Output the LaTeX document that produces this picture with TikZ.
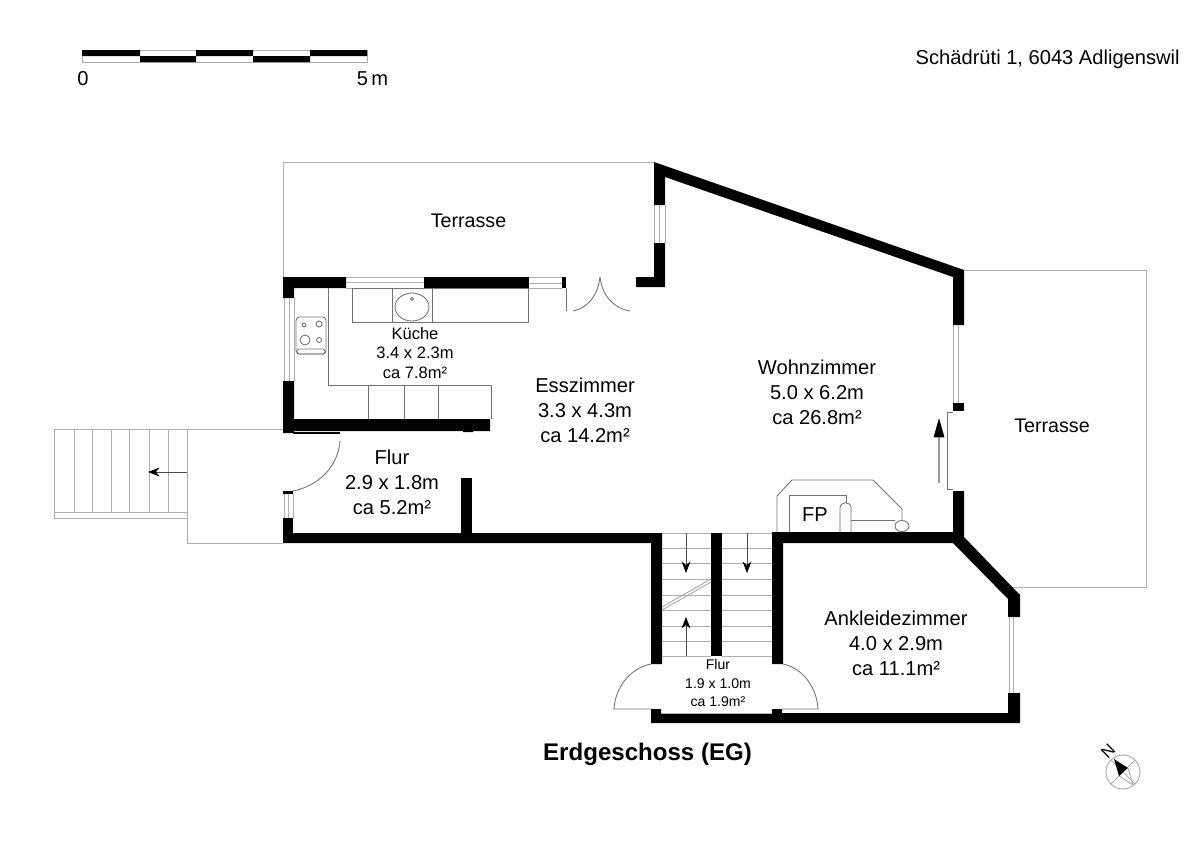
\documentclass[tikz,border=0pt]{standalone}
\usepackage{fontspec}
\setmainfont{Liberation Sans}
\usetikzlibrary{arrows.meta}
\tikzset{
  wall/.style={fill=black, draw=none},
  thin line/.style={draw=black!32, line width=0.55pt},
  fitting/.style={draw=black!55, line width=0.5pt},
  room/.style={align=center, font=\fontsize{11.45}{14.2}\selectfont, inner sep=0pt},
  small room/.style={align=center, font=\fontsize{8}{10.6}\selectfont, inner sep=0pt},
  walk/.style={draw=black!70, line width=0.5pt, -{Stealth[length=6.5pt, width=5pt, inset=2pt, black]}}
}

\begin{document}
\begin{tikzpicture}[x=0.02cm, y=-0.02cm]
  \useasboundingbox (0,0) rectangle (1200,849);

  \draw[thin line] (82,50) rectangle (367,62);
  \fill[wall] (82,50) rectangle (140,56) (140,56) rectangle (196,62) (196,50) rectangle (253,56)
    (253,56) rectangle (310,62) (310,50) rectangle (367,56);
  \node[room, anchor=base] (zero) at (83,85) {0};
  \node[room, anchor=base] (five) at (372.5,85) {5\,m};
  \node[room, anchor=base east] (address) at (1180,64) {Schädrüti 1, 6043 Adligenswil};

  \draw[thin line] (283,277) -- (283,162) -- (654,162);
  \draw[thin line] (964,270) -- (1146,270) -- (1146,587) -- (1013,587);
  \draw[thin line] (283,429) -- (54,429) -- (54,518) -- (187,518);
  \draw[thin line] (187,429) -- (187,543) -- (283,543);
  \draw[thin line] (54,512) -- (187,512);
  \foreach \stepx in {74,92.5,111,129.5,149.5,168}
    \draw[thin line] (\stepx,429) -- (\stepx,512);
  \draw[walk] (187,472) -- (148,472);

  \fill[wall] (654,162) -- (964,270) -- (964,325) -- (953,325) -- (953,277) -- (665,177) -- (665,205) -- (654,205) -- cycle;
  \fill[wall] (654,243) -- (665,243) -- (665,287) -- (636,287) -- (636,277) -- (654,277) -- cycle;
  \fill[wall] (953,403) rectangle (964,411);
  \fill[wall] (953,491) -- (964,491) -- (964,537) -- (1020,595) -- (1020,617) -- (1008,617) -- (1008,599) -- (953,543)
    -- (783,543) -- (783,664) -- (772,664) -- (772,532) -- (953,532) -- cycle;
  \fill[wall] (1008,693) -- (1020,693) -- (1020,723) -- (651,723) -- (651,709) -- (661,709) -- (661,713) -- (772,713)
    -- (772,709) -- (782,709) -- (782,713) -- (1008,713) -- cycle;
  \fill[wall] (283,533) -- (662,533) -- (662,664) -- (651,664) -- (651,543) -- (283,543) -- cycle;
  \fill[wall] (711,533) rectangle (722,656);
  \fill[wall] (461,478) rectangle (472,533);
  \fill[wall] (283,518) rectangle (293,543);
  \fill[wall] (283,491) rectangle (293,494);
  \fill[wall] (283,277) -- (346,277) -- (346,288) -- (294,288) -- (294,298) -- (283,298) -- cycle;
  \fill[wall] (283,381) -- (294,381) -- (294,419) -- (490,419) -- (490,431) -- (473,431) -- (473,432) -- (463,432)
    -- (463,431) -- (294,431) -- (294,433) -- (283,433) -- cycle;
  \fill[wall] (424,277) rectangle (529,288);
  \fill[wall] (562,277) rectangle (566,288);

  \draw[thin line] (654,205) -- (654,243) (659,205) -- (659,243) (665,205) -- (665,243);
  \draw[thin line] (953,325) -- (953,403) (958,325) -- (958,403);
  \draw[thin line] (1009,617) -- (1009,693) (1013,617) -- (1013,693);
  \draw[thin line] (284,298) -- (284,381) (289,298) -- (289,381) (294,298) -- (294,381);
  \draw[thin line] (346,277) -- (424,277) (346,282) -- (424,282) (346,288) -- (424,288);
  \draw[thin line] (529,277) -- (562,277) (529,283) -- (562,283) (529,288) -- (562,288);
  \draw[thin line] (284,494) -- (284,518) (288,494) -- (288,518) (293,494) -- (293,518);

  \draw[fitting] (352,288) rectangle (528,322);
  \draw[fitting] (392,288) -- (392,322) (432,288) -- (432,322);
  \draw[fitting] (412,307) ellipse (17 and 14);
  \draw[fitting] (412,299) circle (1.6);
  \draw[fitting] (328,288) -- (328,385) -- (491,385) -- (491,419);
  \draw[fitting] (368,385) -- (368,419) (404,385) -- (404,419) (438,385) -- (438,419);
  \draw[fitting, rounded corners=2pt] (296,317) rectangle (326,354);
  \draw[fitting, rounded corners=1pt] (297,349) rectangle (325,354);
  \draw[fitting] (304,325) circle (2) (319,324) circle (3) (305,340) circle (5) (319,340) circle (2.5);

  \draw[black, line width=0.9pt] (293,433) -- (340,433);
  \draw[fitting] (340,441) .. controls (338,467) and (318,486) .. (293,491);
  \draw[fitting] (566,288) -- (566,311);
  \draw[fitting] (600,277) .. controls (598,295) and (588,308) .. (573,311);
  \draw[fitting] (600,277) .. controls (602,295) and (613,308) .. (630,311);

  \foreach \treadY in {533,548,563,579,595,610,626,641,656}
    \draw[thin line] (662,\treadY) -- (711,\treadY) (722,\treadY) -- (772,\treadY);
  \draw[thin line] (662,607) -- (711,579) (662,610) -- (711,582);
  \draw[walk] (686,533) -- (686,573);
  \draw[walk] (747,533) -- (747,573);
  \draw[walk] (686,656) -- (686,617);
  \draw[fitting] (651,664) .. controls (630,668) and (615,688) .. (614,709) -- (651,709);
  \draw[fitting] (783,664) .. controls (803,668) and (817,688) .. (818,709) -- (782,709);
  \draw[thin line] (661,713) -- (772,713);

  \draw[fitting] (777,532) -- (777,496) -- (792,480) -- (873,480) -- (902,509) -- (902,521);
  \draw[fitting] (789,532) -- (789,495) -- (846,495) -- (846,503);
  \draw[fitting] (840,532) -- (840,508) .. controls (840,501) and (851,501) .. (851,508) -- (851,532);
  \draw[fitting] (851,520) -- (895,520);
  \draw[fitting] (902,526) ellipse (7 and 5.5);
  \draw[fitting] (953,412) -- (947,412) -- (947,489) -- (953,489);
  \draw[draw=black!40, line width=0.7pt, -{Stealth[length=11pt, width=6pt, inset=0pt, black]}] (939,483) -- (939,418);

  \node[room, font=\fontsize{11.2}{14.2}\selectfont] (terrace north) at (468.5,221) {Terrasse};
  \node[room, font=\fontsize{11.2}{14.2}\selectfont] (terrace east) at (1052,426) {Terrasse};
  \node[small room, font=\fontsize{9.4}{10.9}\selectfont] (kitchen) at (415,353) {Küche\\3.4 x 2.3m\\ca 7.8m²};
  \node[room] (dining) at (585,410) {Esszimmer\\3.3 x 4.3m\\ca 14.2m²};
  \node[room] (living) at (817,392) {Wohnzimmer\\5.0 x 6.2m\\ca 26.8m²};
  \node[room] (hall) at (392,482) {Flur\\2.9 x 1.8m\\ca 5.2m²};
  \node[room] (dressing) at (896,643) {Ankleidezimmer\\4.0 x 2.9m\\ca 11.1m²};
  \node[small room] (entry) at (718,683) {Flur\\1.9 x 1.0m\\ca 1.9m²};
  \node[room] (fireplace) at (815,515) {FP};
  \node[inner sep=0pt, font=\fontsize{13.7}{15}\bfseries\selectfont] (title) at (647.5,754) {Erdgeschoss (EG)};

  \coordinate (compass) at (1123,772);
  \draw[thin line] (compass) circle (17);
  \draw[thin line] (1111,760) -- (1135,784) (1135,760) -- (1111,784);
  \draw[thin line] (1128,768) -- (1133,785) -- (1119,776);
  \fill[black] (1114,759) -- (1128,768) -- (1123,772) -- (1119,776) -- cycle;
  \node[rotate=45, inner sep=0pt, font=\fontsize{9.5}{11}\selectfont] (north) at (1108,751) {N};
\end{tikzpicture}
\end{document}
